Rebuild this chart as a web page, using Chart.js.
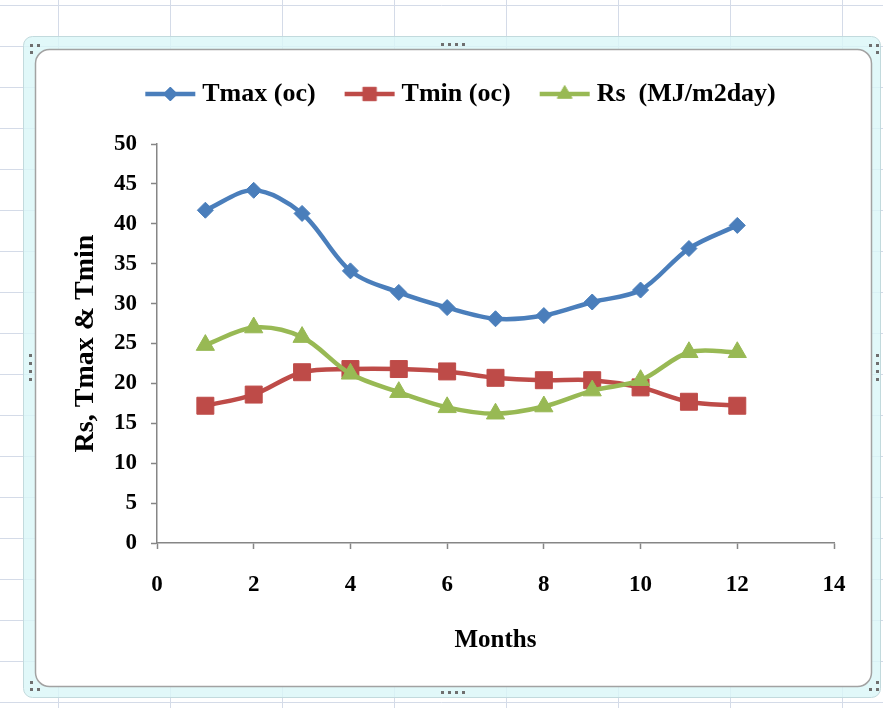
<!DOCTYPE html>
<html>
<head>
<meta charset="utf-8">
<title>Tmax, Tmin and Rs by month</title>
<script src="https://cdn.jsdelivr.net/npm/chart.js@4.4.1/dist/chart.umd.min.js"></script>
<style>
  html, body { margin: 0; padding: 0; background: #fff; overflow: hidden; }
  #wrap { position: relative; width: 883px; height: 708px; }
</style>
</head>
<body>
<div id="wrap"><canvas id="chart"></canvas></div>
<script>
// monthly values
const months = [1, 2, 3, 4, 5, 6, 7, 8, 9, 10, 11, 12];
const tmax = [41.7, 44.2, 41.3, 34.1, 31.4, 29.5, 28.1, 28.5, 30.2, 31.7, 36.9, 39.8];
const tmin = [17.2, 18.6, 21.4, 21.8, 21.8, 21.5, 20.7, 20.4, 20.4, 19.5, 17.7, 17.2];
const rs   = [24.8, 27.0, 25.8, 21.2, 18.9, 17.0, 16.2, 17.1, 19.1, 20.4, 23.9, 23.9];

const seriesNames = ['Tmax (oc)', 'Tmin (oc)', 'Rs  (MJ/m2day)'];
const seriesColors = ['#4a7ebb', '#be4b48', '#98b954'];

const serif = 'Liberation Serif';
const axisGray = '#868686';

function toPoints(values) {
  return months.map((m, i) => ({ x: m, y: values[i] }));
}

// legend icon: short line with the marker in the middle (excel style)
function legendIcon(color, style, radius) {
  const c = document.createElement('canvas');
  c.width = 54;
  c.height = 26;
  const g = c.getContext('2d');
  g.strokeStyle = color;
  g.lineWidth = 4.5;
  g.beginPath();
  g.moveTo(2, 13);
  g.lineTo(52, 13);
  g.stroke();
  g.fillStyle = color;
  g.strokeStyle = color;
  g.lineWidth = 1;
  Chart.helpers.drawPoint(g, { pointStyle: style, radius: radius, rotation: 0, borderWidth: 1 }, 27, 13);
  return c;
}

// spreadsheet grid + selected chart frame behind everything
const sheetBackground = {
  id: 'sheetBackground',
  beforeDraw(chart) {
    const ctx = chart.ctx;
    ctx.save();
    ctx.fillStyle = '#ffffff';
    ctx.fillRect(0, 0, chart.width, chart.height);

    ctx.strokeStyle = '#d4dbe8';
    ctx.lineWidth = 1;
    ctx.beginPath();
    for (let y = 5; y <= 702; y += 41) {
      ctx.moveTo(0, y + 0.5);
      ctx.lineTo(chart.width, y + 0.5);
    }
    for (let x = 58; x < chart.width; x += 112) {
      ctx.moveTo(x + 0.5, 0);
      ctx.lineTo(x + 0.5, chart.height);
    }
    ctx.stroke();

    function rounded(x, y, w, h, r) {
      ctx.beginPath();
      ctx.moveTo(x + r, y);
      ctx.lineTo(x + w - r, y);
      ctx.arcTo(x + w, y, x + w, y + r, r);
      ctx.lineTo(x + w, y + h - r);
      ctx.arcTo(x + w, y + h, x + w - r, y + h, r);
      ctx.lineTo(x + r, y + h);
      ctx.arcTo(x, y + h, x, y + h - r, r);
      ctx.lineTo(x, y + r);
      ctx.arcTo(x, y, x + r, y, r);
      ctx.closePath();
    }

    // outer selection band
    rounded(23.5, 36.5, 857, 661, 9);
    ctx.fillStyle = 'rgba(218, 246, 248, 0.8)';
    ctx.fill();
    ctx.strokeStyle = '#c2dadd';
    ctx.lineWidth = 1;
    ctx.stroke();

    // chart area
    rounded(35.5, 49.5, 836, 637, 14);
    ctx.fillStyle = '#ffffff';
    ctx.fill();
    ctx.strokeStyle = '#a2a2a2';
    ctx.lineWidth = 1.5;
    ctx.stroke();

    // resize handles
    ctx.fillStyle = '#6f6f6f';
    const dots = [
      [30, 44], [37, 44], [30, 51],
      [869, 44], [876, 44], [876, 51],
      [30, 681], [30, 688], [37, 688],
      [869, 688], [876, 688], [876, 681],
      [441, 43], [448, 43], [455, 43], [462, 43],
      [441, 691], [448, 691], [455, 691], [462, 691],
      [29, 354], [29, 362], [29, 370], [29, 378],
      [876, 354], [876, 362], [876, 370], [876, 378]
    ];
    dots.forEach(d => ctx.fillRect(d[0], d[1], 3, 3));
    ctx.restore();
  }
};

// move the legend up and a bit right so it sits centred over the plot
const legendNudge = {
  id: 'legendNudge',
  afterLayout(chart) {
    const lg = chart.legend;
    if (lg) {
      lg.left += 12;
      lg.right += 12;
      lg.top -= 27;
      lg.bottom -= 27;
    }
  }
};

const styles = ['rectRot', 'rect', 'triangle'];
const radii = [8, 12, 10.5];
const iconRadii = [7, 9.5, 8.5];
const values = [tmax, tmin, rs];

const datasets = values.map((v, i) => ({
  label: seriesNames[i],
  data: toPoints(v),
  borderColor: seriesColors[i],
  backgroundColor: seriesColors[i],
  borderWidth: 4.5,
  tension: 0.33,
  pointStyle: styles[i],
  pointRadius: radii[i],
  pointHoverRadius: radii[i],
  pointBorderWidth: 1,
  pointBackgroundColor: seriesColors[i],
  pointBorderColor: seriesColors[i],
  order: 3 - i
}));

const icons = seriesColors.map((c, i) => legendIcon(c, styles[i], iconRadii[i]));

new Chart(document.getElementById('chart'), {
  type: 'line',
  data: { datasets: datasets },
  plugins: [sheetBackground, legendNudge],
  options: {
    responsive: true,
    maintainAspectRatio: false,
    animation: false,
    layout: { padding: { left: 69, right: 49, top: 73, bottom: 52 } },
    plugins: {
      tooltip: { enabled: false },
      legend: {
        position: 'top',
        labels: {
          usePointStyle: true,
          pointStyleWidth: 38,
          padding: 35,
          color: '#000',
          font: { family: serif, size: 26, weight: 'bold' },
          generateLabels(chart) {
            return chart.data.datasets.map((ds, i) => ({
              text: ds.label,
              datasetIndex: i,
              pointStyle: icons[i],
              fillStyle: ds.borderColor,
              strokeStyle: ds.borderColor,
              lineWidth: 0,
              hidden: false,
              fontColor: '#000'
            }));
          }
        }
      }
    },
    scales: {
      x: {
        type: 'linear',
        min: 0,
        max: 14,
        afterFit(scale) { scale.height = 113; },
        ticks: {
          stepSize: 2,
          padding: 22,
          color: '#000',
          font: { family: serif, size: 23, weight: 'bold' }
        },
        grid: {
          drawOnChartArea: false,
          tickLength: 6,
          tickColor: axisGray,
          tickWidth: 1.5
        },
        border: { color: axisGray, width: 1.5 },
        title: {
          display: true,
          text: 'Months',
          padding: 0,
          color: '#000',
          font: { family: serif, size: 25, weight: 'bold' }
        }
      },
      y: {
        min: 0,
        max: 50,
        afterFit(scale) { scale.width = 88; },
        ticks: {
          stepSize: 5,
          padding: 14,
          color: '#000',
          font: { family: serif, size: 23, weight: 'bold' }
        },
        grid: {
          drawOnChartArea: false,
          tickLength: 6,
          tickColor: axisGray,
          tickWidth: 1.5
        },
        border: { color: axisGray, width: 1.5 },
        title: {
          display: true,
          text: 'Rs, Tmax & Tmin',
          padding: 0,
          color: '#000',
          font: { family: serif, size: 28, weight: 'bold' }
        }
      }
    }
  }
});
</script>
</body>
</html>
